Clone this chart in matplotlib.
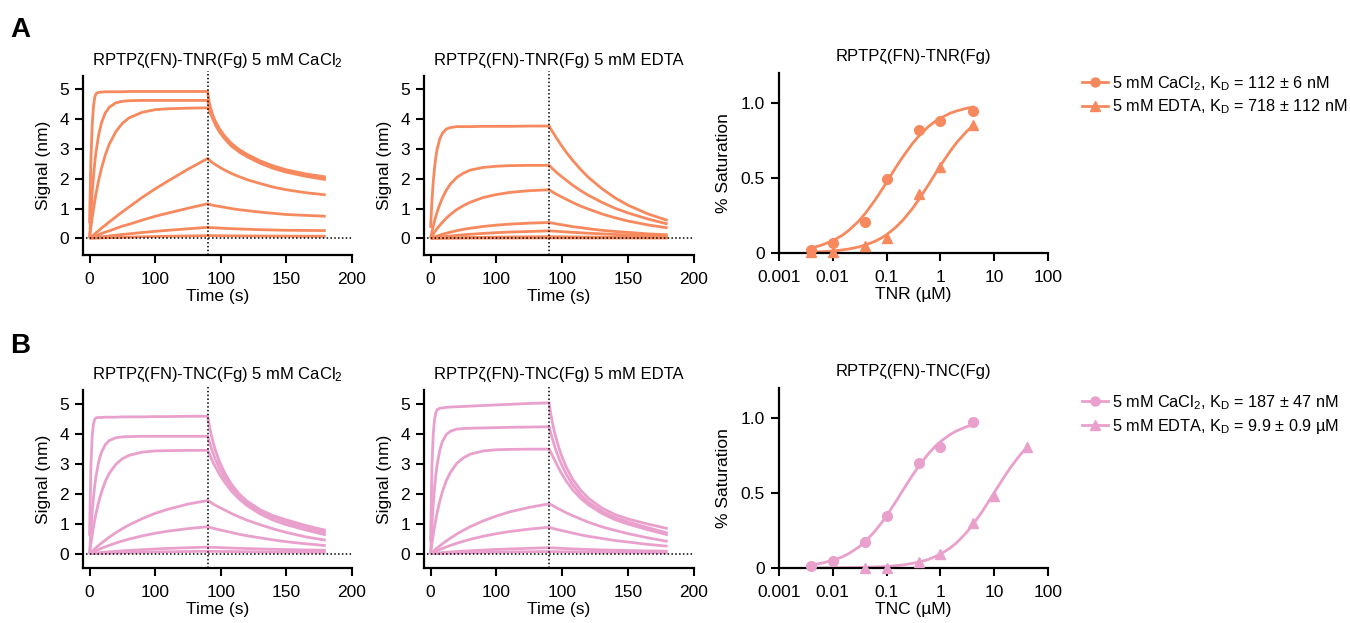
import matplotlib
matplotlib.use("Agg")
import matplotlib.pyplot as plt
from matplotlib.lines import Line2D
from matplotlib.ticker import FixedLocator, FixedFormatter, NullLocator

plt.rcParams['font.family'] = ['Liberation Sans', 'DejaVu Sans']
plt.rcParams['mathtext.fontset'] = 'custom'
plt.rcParams['mathtext.rm'] = 'Liberation Sans'
plt.rcParams['mathtext.it'] = 'Liberation Sans:italic'
plt.rcParams['mathtext.default'] = 'regular'

ORANGE = '#F7895E'
PINK = '#E9A0CC'

# ---------------- data ----------------
t_assoc = [0, 1, 2, 3, 4, 5, 7, 9, 12, 15, 20, 25, 30, 40, 50, 60, 75, 90]
t_dissoc = [91, 92, 94, 96, 99, 103, 108, 114, 120, 130, 140, 150, 165, 180]
t_switch = 90
time_ticks = [0, 50, 100, 150, 200]
time_ticklabels = ['0', '100', '100', '150', '200']

# TNR, 5 mM CaCl2
tnr_ca_assoc = [
    [0.5, 2.6, 3.8, 4.45, 4.75, 4.86, 4.9, 4.91, 4.92, 4.92, 4.92, 4.92, 4.93, 4.93, 4.93, 4.93, 4.93, 4.93],
    [0, 0.84, 1.52, 2.09, 2.55, 2.93, 3.49, 3.87, 4.21, 4.40, 4.55, 4.60, 4.62, 4.63, 4.63, 4.63, 4.63, 4.63],
    [0, 0.36, 0.68, 0.99, 1.26, 1.52, 1.96, 2.34, 2.80, 3.16, 3.58, 3.86, 4.04, 4.23, 4.32, 4.35, 4.37, 4.38],
    [0, 0.04, 0.08, 0.11, 0.15, 0.19, 0.26, 0.34, 0.44, 0.55, 0.72, 0.89, 1.05, 1.37, 1.66, 1.93, 2.32, 2.68],
    [0, 0.018, 0.036, 0.053, 0.07, 0.087, 0.12, 0.16, 0.21, 0.25, 0.33, 0.41, 0.47, 0.61, 0.74, 0.85, 1.01, 1.16],
    [0, 0.006, 0.012, 0.017, 0.022, 0.028, 0.038, 0.05, 0.066, 0.08, 0.105, 0.13, 0.15, 0.195, 0.235, 0.27, 0.32, 0.37],
    [0, 0.002, 0.003, 0.005, 0.006, 0.007, 0.01, 0.013, 0.017, 0.021, 0.027, 0.033, 0.039, 0.05, 0.06, 0.07, 0.08, 0.09],
]
tnr_ca_dissoc = [
    [4.62, 4.42, 4.12, 3.92, 3.68, 3.43, 3.19, 2.98, 2.82, 2.6, 2.43, 2.3, 2.16, 2.06],
    [4.45, 4.3, 4.05, 3.85, 3.61, 3.38, 3.14, 2.94, 2.78, 2.56, 2.39, 2.26, 2.12, 2.01],
    [4.3, 4.2, 4.0, 3.8, 3.57, 3.34, 3.1, 2.9, 2.74, 2.52, 2.35, 2.22, 2.08, 1.97],
    [2.64, 2.6, 2.53, 2.47, 2.39, 2.29, 2.18, 2.07, 1.97, 1.84, 1.72, 1.63, 1.53, 1.46],
    [1.14, 1.13, 1.11, 1.09, 1.07, 1.04, 1.0, 0.96, 0.93, 0.88, 0.84, 0.8, 0.77, 0.74],
    [0.365, 0.36, 0.355, 0.35, 0.345, 0.335, 0.325, 0.315, 0.305, 0.29, 0.28, 0.27, 0.265, 0.26],
    [0.09, 0.09, 0.089, 0.088, 0.087, 0.085, 0.083, 0.081, 0.079, 0.077, 0.075, 0.073, 0.071, 0.07],
]

# TNR, 5 mM EDTA
tnr_edta_assoc = [
    [0.35, 1.23, 1.89, 2.37, 2.73, 3.0, 3.34, 3.53, 3.67, 3.72, 3.75, 3.75, 3.75, 3.76, 3.76, 3.76, 3.77, 3.77],
    [0, 0.21, 0.40, 0.58, 0.74, 0.89, 1.14, 1.36, 1.62, 1.82, 2.05, 2.19, 2.29, 2.38, 2.42, 2.44, 2.45, 2.45],
    [0, 0.07, 0.14, 0.21, 0.27, 0.33, 0.44, 0.54, 0.68, 0.80, 0.97, 1.10, 1.21, 1.37, 1.47, 1.54, 1.60, 1.63],
    [0, 0.017, 0.033, 0.049, 0.064, 0.079, 0.108, 0.135, 0.172, 0.206, 0.257, 0.301, 0.338, 0.398, 0.443, 0.476, 0.51, 0.532],
    [0, 0.006, 0.012, 0.018, 0.023, 0.029, 0.039, 0.05, 0.064, 0.078, 0.1, 0.12, 0.135, 0.165, 0.19, 0.21, 0.23, 0.25],
    [0, 0.002, 0.003, 0.004, 0.005, 0.006, 0.008, 0.01, 0.013, 0.016, 0.02, 0.024, 0.028, 0.034, 0.04, 0.045, 0.05, 0.055],
    [0, 0.001, 0.001, 0.002, 0.002, 0.002, 0.003, 0.003, 0.004, 0.005, 0.006, 0.007, 0.008, 0.009, 0.01, 0.011, 0.013, 0.015],
]
tnr_edta_dissoc = [
    [3.69, 3.62, 3.48, 3.34, 3.14, 2.89, 2.61, 2.31, 2.04, 1.67, 1.36, 1.11, 0.82, 0.60],
    [2.41, 2.36, 2.28, 2.20, 2.09, 1.95, 1.78, 1.60, 1.44, 1.21, 1.01, 0.85, 0.65, 0.48],
    [1.60, 1.575, 1.52, 1.47, 1.40, 1.31, 1.20, 1.08, 0.98, 0.82, 0.69, 0.58, 0.45, 0.35],
    [0.52, 0.515, 0.50, 0.48, 0.46, 0.43, 0.39, 0.36, 0.32, 0.27, 0.23, 0.20, 0.15, 0.12],
    [0.248, 0.245, 0.24, 0.235, 0.225, 0.215, 0.2, 0.185, 0.17, 0.15, 0.13, 0.115, 0.095, 0.08],
    [0.055, 0.054, 0.053, 0.052, 0.05, 0.048, 0.046, 0.044, 0.042, 0.039, 0.036, 0.034, 0.031, 0.028],
    [0.015, 0.015, 0.015, 0.014, 0.014, 0.014, 0.013, 0.013, 0.012, 0.012, 0.011, 0.011, 0.01, 0.01],
]

# TNC, 5 mM CaCl2
tnc_ca_assoc = [
    [0.6, 2.9, 3.95, 4.35, 4.5, 4.55, 4.56, 4.56, 4.57, 4.57, 4.57, 4.58, 4.58, 4.58, 4.59, 4.59, 4.6, 4.6],
    [0, 0.78, 1.40, 1.90, 2.30, 2.62, 3.09, 3.39, 3.65, 3.79, 3.88, 3.91, 3.92, 3.93, 3.93, 3.93, 3.93, 3.93],
    [0, 0.33, 0.63, 0.90, 1.14, 1.36, 1.74, 2.05, 2.42, 2.69, 2.99, 3.18, 3.29, 3.40, 3.44, 3.45, 3.46, 3.46],
    [0, 0.042, 0.084, 0.124, 0.164, 0.203, 0.279, 0.352, 0.454, 0.552, 0.703, 0.837, 0.961, 1.17, 1.35, 1.49, 1.66, 1.78],
    [0, 0.021, 0.042, 0.063, 0.083, 0.103, 0.141, 0.178, 0.23, 0.28, 0.356, 0.424, 0.487, 0.595, 0.683, 0.755, 0.839, 0.90],
    [0, 0.0045, 0.009, 0.013, 0.018, 0.021, 0.03, 0.038, 0.05, 0.062, 0.078, 0.094, 0.108, 0.134, 0.157, 0.176, 0.2, 0.22],
    [0, 0.002, 0.004, 0.005, 0.007, 0.008, 0.011, 0.014, 0.018, 0.022, 0.028, 0.034, 0.039, 0.048, 0.056, 0.063, 0.072, 0.08],
]
tnc_ca_dissoc = [
    [4.35, 4.12, 3.75, 3.45, 3.08, 2.7, 2.33, 2.0, 1.76, 1.47, 1.27, 1.13, 0.94, 0.78],
    [3.8, 3.65, 3.38, 3.15, 2.86, 2.54, 2.22, 1.92, 1.69, 1.41, 1.21, 1.06, 0.87, 0.71],
    [3.37, 3.27, 3.07, 2.9, 2.66, 2.39, 2.1, 1.83, 1.61, 1.33, 1.12, 0.97, 0.79, 0.63],
    [1.75, 1.73, 1.67, 1.62, 1.55, 1.46, 1.35, 1.23, 1.12, 0.97, 0.83, 0.71, 0.56, 0.45],
    [0.888, 0.876, 0.853, 0.83, 0.80, 0.76, 0.71, 0.65, 0.60, 0.53, 0.46, 0.40, 0.33, 0.27],
    [0.218, 0.216, 0.212, 0.208, 0.203, 0.196, 0.188, 0.179, 0.171, 0.158, 0.147, 0.137, 0.124, 0.113],
    [0.079, 0.078, 0.077, 0.076, 0.074, 0.072, 0.07, 0.067, 0.064, 0.06, 0.057, 0.054, 0.05, 0.047],
]

# TNC, 5 mM EDTA
tnc_edta_assoc = [
    [0.4, 2.9, 4.0, 4.5, 4.72, 4.82, 4.87, 4.88, 4.9, 4.91, 4.92, 4.93, 4.94, 4.96, 4.98, 5.0, 5.03, 5.05],
    [0, 0.93, 1.65, 2.22, 2.65, 2.99, 3.47, 3.76, 3.99, 4.10, 4.17, 4.19, 4.2, 4.21, 4.22, 4.23, 4.24, 4.25],
    [0, 0.33, 0.63, 0.91, 1.15, 1.38, 1.76, 2.08, 2.45, 2.72, 3.03, 3.21, 3.33, 3.44, 3.48, 3.49, 3.5, 3.5],
    [0, 0.04, 0.078, 0.116, 0.154, 0.19, 0.262, 0.33, 0.426, 0.518, 0.66, 0.786, 0.902, 1.10, 1.26, 1.40, 1.55, 1.67],
    [0, 0.021, 0.042, 0.062, 0.082, 0.101, 0.139, 0.175, 0.226, 0.275, 0.35, 0.417, 0.478, 0.584, 0.67, 0.741, 0.824, 0.885],
    [0, 0.004, 0.008, 0.012, 0.016, 0.019, 0.027, 0.034, 0.045, 0.056, 0.07, 0.085, 0.097, 0.12, 0.141, 0.158, 0.18, 0.2],
    [0, 0.002, 0.003, 0.005, 0.006, 0.007, 0.01, 0.012, 0.016, 0.02, 0.025, 0.03, 0.034, 0.042, 0.05, 0.056, 0.064, 0.07],
]
tnc_edta_dissoc = [
    [4.75, 4.5, 4.08, 3.75, 3.33, 2.9, 2.48, 2.12, 1.85, 1.53, 1.31, 1.16, 0.99, 0.84],
    [4.08, 3.92, 3.62, 3.36, 3.03, 2.66, 2.3, 1.97, 1.72, 1.42, 1.21, 1.06, 0.87, 0.69],
    [3.42, 3.33, 3.15, 2.97, 2.72, 2.43, 2.13, 1.85, 1.63, 1.35, 1.14, 0.99, 0.8, 0.63],
    [1.65, 1.63, 1.58, 1.53, 1.46, 1.37, 1.27, 1.16, 1.05, 0.9, 0.78, 0.67, 0.53, 0.41],
    [0.87, 0.86, 0.83, 0.81, 0.78, 0.74, 0.69, 0.63, 0.58, 0.51, 0.44, 0.39, 0.31, 0.25],
    [0.198, 0.195, 0.19, 0.185, 0.178, 0.17, 0.16, 0.15, 0.14, 0.126, 0.115, 0.105, 0.092, 0.082],
    [0.069, 0.068, 0.067, 0.066, 0.064, 0.062, 0.06, 0.057, 0.054, 0.05, 0.047, 0.044, 0.04, 0.037],
]

# Saturation (steady-state) data
tnr_conc = [0.004, 0.01, 0.04, 0.1, 0.4, 1, 4]
tnr_ca_sat = [0.018, 0.067, 0.204, 0.493, 0.822, 0.88, 0.949]
tnr_edta_sat = [0.004, 0.005, 0.05, 0.10, 0.39, 0.57, 0.85]
tnr_fit_x = [0.004, 0.006, 0.01, 0.015, 0.02, 0.03, 0.04, 0.06, 0.08, 0.1, 0.15, 0.2,
             0.3, 0.4, 0.6, 0.8, 1, 1.5, 2, 3, 4]
tnr_ca_fit = [0.0345, 0.0508, 0.082, 0.118, 0.152, 0.211, 0.263, 0.349, 0.417, 0.472, 0.573,
              0.641, 0.728, 0.781, 0.843, 0.877, 0.899, 0.931, 0.947, 0.964, 0.973]
tnr_edta_fit = [0.0055, 0.0083, 0.0137, 0.0205, 0.027, 0.040, 0.053, 0.077, 0.100, 0.122, 0.173,
                0.218, 0.295, 0.358, 0.455, 0.527, 0.582, 0.676, 0.736, 0.807, 0.848]

tnc_ca_conc = [0.004, 0.01, 0.04, 0.1, 0.4, 1, 4]
tnc_ca_sat = [0.016, 0.047, 0.171, 0.349, 0.70, 0.804, 0.971]
tnc_edta_conc = [0.04, 0.1, 0.4, 1, 4, 10, 40]
tnc_edta_sat = [0.0, 0.0, 0.042, 0.096, 0.30, 0.478, 0.804]
tnc_ca_fit_x = [0.004, 0.006, 0.01, 0.015, 0.02, 0.03, 0.04, 0.06, 0.08, 0.1, 0.15, 0.2,
                0.3, 0.4, 0.6, 0.8, 1, 1.5, 2, 3, 4]
tnc_ca_fit = [0.0209, 0.0311, 0.0508, 0.0743, 0.097, 0.138, 0.176, 0.243, 0.300, 0.348, 0.445,
              0.517, 0.616, 0.681, 0.762, 0.811, 0.842, 0.889, 0.914, 0.941, 0.955]
tnc_edta_fit_x = [0.004, 0.01, 0.02, 0.04, 0.1, 0.2, 0.4, 0.6, 1, 1.5, 2, 3, 4, 6, 8, 10,
                  15, 20, 30, 40]
tnc_edta_fit = [0.0004, 0.001, 0.002, 0.004, 0.010, 0.020, 0.039, 0.057, 0.092, 0.132, 0.168,
                0.233, 0.288, 0.377, 0.447, 0.503, 0.602, 0.669, 0.752, 0.802]

conc_ticks = [0.001, 0.01, 0.1, 1, 10, 100]
conc_ticklabels = ['0.001', '0.01', '0.1', '1', '10', '100']

titles_A = ['RPTPζ(FN)-TNR(Fg) 5 mM CaCl$_2$', 'RPTPζ(FN)-TNR(Fg) 5 mM EDTA', 'RPTPζ(FN)-TNR(Fg)']
titles_B = ['RPTPζ(FN)-TNC(Fg) 5 mM CaCl$_2$', 'RPTPζ(FN)-TNC(Fg) 5 mM EDTA', 'RPTPζ(FN)-TNC(Fg)']
legend_A = ['5 mM CaCl$_2$, K$_D$ = 112 ± 6 nM', '5 mM EDTA, K$_D$ = 718 ± 112 nM']
legend_B = ['5 mM CaCl$_2$, K$_D$ = 187 ± 47 nM', '5 mM EDTA, K$_D$ = 9.9 ± 0.9 µM']

# ---------------- drawing ----------------
W, H = 1350, 623
fig = plt.figure(figsize=(13.5, 6.23), dpi=100)
FS = 12.5
FS_TITLE = 12


def px_axes(left, top, right, bottom):
    return fig.add_axes([left / W, 1 - bottom / H, (right - left) / W, (bottom - top) / H])


def style(ax):
    for s in ['top', 'right']:
        ax.spines[s].set_visible(False)
    for s in ['left', 'bottom']:
        ax.spines[s].set_linewidth(1.6)
    ax.tick_params(direction='out', length=6, width=1.5, labelsize=FS, colors='black', pad=4)
    ax.tick_params(axis='x', pad=6)


def sensorgram(ax, assoc, dissoc, color, title, ylim):
    style(ax)
    t = t_assoc + t_dissoc
    for a, d in zip(assoc, dissoc):
        ax.plot(t, a + d, color=color, lw=2.0, solid_capstyle='butt')
    ax.axhline(0, color='black', lw=1.1, ls=(0, (1, 1.5)), xmin=0.012, xmax=1.0)
    ax.axvline(t_switch, color='black', lw=1.1, ls=(0, (1, 1.5)), clip_on=False, ymax=1.03)
    ax.set_xlim(-5, 200)
    ax.set_ylim(*ylim)
    ax.xaxis.set_major_locator(FixedLocator(time_ticks))
    ax.xaxis.set_major_formatter(FixedFormatter(time_ticklabels))
    ax.set_yticks([0, 1, 2, 3, 4, 5])
    ax.set_xlabel('Time (s)', fontsize=FS, labelpad=2)
    ax.set_ylabel('Signal (nm)', fontsize=FS, labelpad=6)
    ax.set_title(title, fontsize=FS_TITLE, pad=8)


def saturation(ax, series, color, title, xlabel):
    style(ax)
    for (cx, cy, fx, fy, mk) in series:
        ax.plot(fx, fy, color=color, lw=2.0)
        ax.plot(cx, cy, ls='none', marker=mk, ms=7, color=color, clip_on=False, zorder=5)
    ax.set_xscale('log')
    ax.set_xlim(0.001, 100)
    ax.set_ylim(0, 1.2)
    ax.xaxis.set_major_locator(FixedLocator(conc_ticks))
    ax.xaxis.set_major_formatter(FixedFormatter(conc_ticklabels))
    ax.xaxis.set_minor_locator(NullLocator())
    ax.set_yticks([0, 0.5, 1.0])
    ax.set_yticklabels(['0', '0.5', '1.0'])
    ax.set_xlabel(xlabel, fontsize=FS, labelpad=2)
    ax.set_ylabel('% Saturation', fontsize=FS, labelpad=7)
    ax.set_title(title, fontsize=FS_TITLE, pad=9)


# Row A
axA1 = px_axes(83, 76, 352, 255)
sensorgram(axA1, tnr_ca_assoc, tnr_ca_dissoc, ORANGE, titles_A[0], (-0.56, 5.45))
axA2 = px_axes(424, 76, 694, 255)
sensorgram(axA2, tnr_edta_assoc, tnr_edta_dissoc, ORANGE, titles_A[1], (-0.56, 5.45))
axA3 = px_axes(779, 73, 1048, 253)
saturation(axA3, [(tnr_conc, tnr_ca_sat, tnr_fit_x, tnr_ca_fit, 'o'),
                  (tnr_conc, tnr_edta_sat, tnr_fit_x, tnr_edta_fit, '^')],
           ORANGE, titles_A[2], 'TNR (µM)')

# Row B
axB1 = px_axes(83, 390, 352, 568)
sensorgram(axB1, tnc_ca_assoc, tnc_ca_dissoc, PINK, titles_B[0], (-0.48, 5.48))
axB2 = px_axes(424, 390, 694, 568)
sensorgram(axB2, tnc_edta_assoc, tnc_edta_dissoc, PINK, titles_B[1], (-0.48, 5.48))
axB3 = px_axes(779, 388, 1048, 568)
saturation(axB3, [(tnc_ca_conc, tnc_ca_sat, tnc_ca_fit_x, tnc_ca_fit, 'o'),
                  (tnc_edta_conc, tnc_edta_sat, tnc_edta_fit_x, tnc_edta_fit, '^')],
           PINK, titles_B[2], 'TNC (µM)')


def add_legend(labels, color, y_top):
    handles = [Line2D([], [], color=color, lw=2.0, marker='o', ms=6.5),
               Line2D([], [], color=color, lw=2.0, marker='^', ms=6.5)]
    fig.legend(handles, labels, loc='upper left', bbox_to_anchor=(1082 / W, 1 - y_top / H),
               frameon=False, fontsize=11.7, handlelength=1.6, handletextpad=0.25,
               labelspacing=0.3, borderaxespad=0, borderpad=0)


add_legend(legend_A, ORANGE, 74)
add_legend(legend_B, PINK, 393)

fig.text(10 / W, 1 - 30 / H, 'A', fontsize=20, fontweight='bold', va='center', ha='left')
fig.text(10 / W, 1 - 346 / H, 'B', fontsize=20, fontweight='bold', va='center', ha='left')

fig.savefig('out.png', dpi=100)
